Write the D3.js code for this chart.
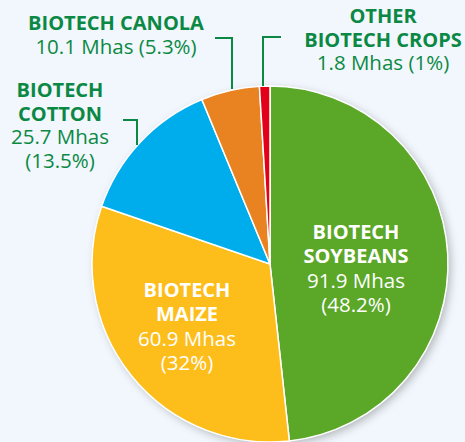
<html>
<head>
<script src="https://d3js.org/d3.v7.min.js"></script>
<style>
body { margin: 0; background: #f1f7fd; }
svg { display: block; }
text { font-family: "Open Sans", "Noto Sans", sans-serif; }
</style>
</head>
<body>
<svg width="465" height="442"></svg>
<script>
// crop areas, million hectares
var crops = ["SOYBEANS", "MAIZE", "COTTON", "CANOLA", "OTHER"];
var areas = [91.9, 60.9, 25.7, 10.1, 1.8];
var shares = ["48.2%", "32%", "13.5%", "5.3%", "1%"];
var colors = ["#5ba829", "#fdbd1a", "#00adec", "#e98220", "#e2001a"];

var width = 465, height = 442,
    cx = 270, cy = 264, radius = 178,
    green = "#0b8944";

var svg = d3.select("svg");

var defs = svg.append("defs");
defs.append("filter").attr("id", "shadow")
    .attr("x", "-20%").attr("y", "-20%").attr("width", "140%").attr("height", "140%")
  .append("feDropShadow")
    .attr("dx", 3).attr("dy", 3).attr("stdDeviation", 4)
    .attr("flood-color", "#000").attr("flood-opacity", 0.25);

var data = crops.map(function(c, i) {
  return {crop: c, area: areas[i], share: shares[i], color: colors[i]};
});

var pie = d3.pie().sort(null).value(function(d) { return d.area; });
var arc = d3.arc().innerRadius(0).outerRadius(radius);
var arcs = pie(data);

var g = svg.append("g").attr("transform", "translate(" + cx + "," + cy + ")");

g.append("circle").attr("r", radius).attr("fill", "#fff").attr("filter", "url(#shadow)");

g.selectAll("path")
  .data(arcs)
  .enter()
  .append("path")
   .attr("d", arc)
   .attr("fill", function(d) { return d.data.color; })
   .attr("stroke", "#fff")
   .attr("stroke-width", 1.5);

// text blocks: lines [text, bold], anchor x, first baseline, line step, colour
function label(x, y, step, lines, fill) {
  var t = svg.append("text")
    .attr("text-anchor", "middle")
    .attr("fill", fill);
  lines.forEach(function(l, i) {
    t.append("tspan")
      .attr("x", x)
      .attr("y", y + i * step)
      .style("font-weight", l[1] ? 700 : 400)
      .style("font-size", l[1] ? "20px" : "20.5px")
      .text(l[0]);
  });
}

function mhas(d) { return d.area + " Mhas"; }

var soy = data[0], maize = data[1], cotton = data[2], canola = data[3], other = data[4];

label(356, 239, 24.3, [["BIOTECH", 1], ["SOYBEANS", 1], [mhas(soy), 0], ["(" + soy.share + ")", 0]], "#fff");
label(187, 297, 24.3, [["BIOTECH", 1], ["MAIZE", 1], [mhas(maize), 0], ["(" + maize.share + ")", 0]], "#fff");
label(60, 97, 23.5, [["BIOTECH", 1], ["COTTON", 1], [mhas(cotton), 0], ["(" + cotton.share + ")", 0]], green);
label(116, 30, 24, [["BIOTECH CANOLA", 1], [mhas(canola) + " (" + canola.share + ")", 0]], green);
label(383, 23, 23.5, [["OTHER", 1], ["BIOTECH CROPS", 1], [mhas(other) + " (" + other.share + ")", 0]], green);

// leader lines
var leaders = [
  [[123, 120], [137, 120], [137, 145]],
  [[215, 38], [232, 38], [232, 89]],
  [[281, 37], [263, 37], [263, 86]]
];
svg.selectAll("path.leader")
  .data(leaders)
  .enter()
  .append("path")
   .attr("class", "leader")
   .attr("d", d3.line())
   .attr("fill", "none")
   .attr("stroke", green)
   .attr("stroke-width", 2);
</script>
</body>
</html>
